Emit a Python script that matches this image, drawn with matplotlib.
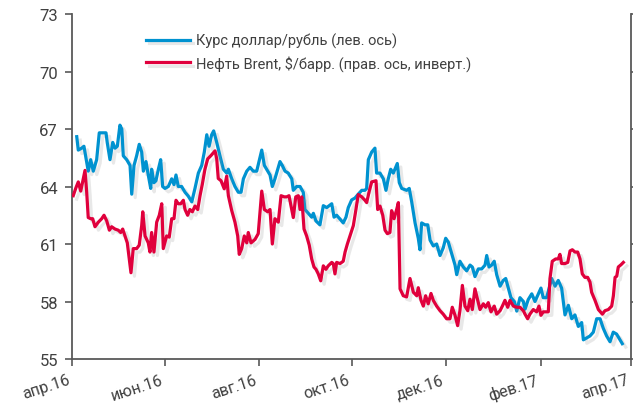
import numpy as np
import matplotlib
matplotlib.use("Agg")
from matplotlib import pyplot as plt
import matplotlib.dates as mdates
import matplotlib.patheffects as pe
import matplotlib.transforms as mtransforms

plt.rcParams["font.family"] = ["Roboto", "DejaVu Sans"]

START = np.datetime64("2016-04-01")

# USD/RUB, left axis; days counted from 1 Apr 2016
rub_day = [3.1, 4.1, 6.3, 7.8, 10.6, 12.2, 13.9, 16.1, 17.8, 20.4, 22.2, 23.0, 24.8,
           26.6, 28.1, 29.6, 31.3, 32.5, 33.5, 35.7, 37.9, 39.0, 40.5, 42.2, 43.9,
           45.5, 46.6, 48.3, 49.8, 51.4, 52.0, 53.5, 54.8, 56.4, 57.9, 59.2, 60.7,
           62.9, 65.1, 66.6, 67.9, 69.4, 71.6, 73.8, 75.9, 78.2, 80.3, 82.5, 84.7,
           86.4, 88.0, 89.5, 91.2, 92.5, 94.5, 96.6, 98.8, 101.0, 102.1, 104.3,
           106.4, 108.6, 110.4, 111.9, 114.1, 116.2, 118.4, 120.6, 122.1, 123.9,
           125.6, 127.1, 129.3, 130.8, 132.5, 134.3, 135.8, 137.3, 139.1, 141.2,
           143.5, 144.5, 146.7, 148.9, 151.0, 152.1, 154.3, 156.5, 157.6, 159.3,
           161.9, 164.1, 166.3, 168.0, 169.6, 171.1, 172.8, 175.0, 177.1, 178.9,
           180.4, 182.6, 184.8, 186.9, 189.2, 191.3, 192.4, 193.5, 195.7, 197.8,
           198.9, 201.1, 203.3, 205.0, 206.5, 208.1, 209.8, 212.4, 213.7, 215.3,
           218.5, 220.2, 221.8, 224.0, 226.1, 227.2, 228.3, 230.5, 232.3, 233.8,
           235.9, 238.1, 240.3, 242.4, 244.0, 245.7, 247.9, 250.1, 251.2, 253.3,
           255.5, 257.7, 259.9, 261.4, 263.1, 265.3, 267.5, 269.7, 270.8, 272.3,
           274.0, 275.7, 277.3, 279.5, 281.6, 283.2, 284.9, 286.6, 288.8, 290.4,
           292.5, 294.7, 295.8, 297.9, 300.2, 302.3, 304.5, 306.2, 307.7, 309.9,
           313.2, 315.4, 317.5, 319.7, 320.8, 321.9, 324.1, 326.3, 328.4, 330.6,
           332.8, 333.9, 336.1, 338.2, 340.4, 342.6, 344.8, 346.9, 349.1, 351.3,
           353.4, 355.6, 357.8, 359.3]
rub_value = [66.6, 65.9, 66.0, 66.1, 64.8, 65.4, 64.8, 65.4, 66.8, 66.8, 66.8, 66.3, 65.4,
             66.3, 66.0, 66.1, 67.2, 67.0, 65.6, 65.4, 65.1, 63.6, 65.1, 65.6, 66.2,
             65.8, 64.8, 65.3, 64.6, 63.9, 64.9, 64.2, 64.3, 64.9, 65.4, 64.0, 63.9,
             64.0, 64.4, 64.1, 64.6, 64.0, 64.0, 63.7, 63.5, 63.2, 63.9, 64.7, 65.1,
             65.8, 66.7, 66.1, 66.7, 66.9, 66.3, 65.6, 64.9, 64.7, 64.9, 64.4,
             64.0, 63.7, 63.7, 64.4, 64.8, 65.0, 64.8, 64.8, 65.3, 65.9,
             65.1, 64.9, 64.6, 64.0, 64.4, 64.9, 65.3, 65.1, 64.8, 64.7,
             64.4, 63.8, 64.0, 64.0, 63.7, 62.8, 62.6, 62.4, 62.6, 62.2,
             62.0, 63.0, 62.9, 63.0, 63.1, 62.4, 62.5, 62.3, 62.1, 62.4,
             62.9, 63.3, 63.4, 63.6, 63.8, 63.8, 63.9, 65.4, 65.8, 66.0,
             64.7, 64.7, 64.4, 63.8, 64.4, 64.9, 64.7, 65.2, 64.2, 63.9,
             63.8, 63.9, 63.2, 62.1, 61.3, 60.7, 62.1, 62.0, 62.0, 61.2,
             60.9, 61.0, 60.4, 60.8, 61.3, 61.1, 60.5, 59.9, 59.4, 60.1,
             59.8, 59.6, 59.9, 59.8, 59.3, 59.7, 59.7, 59.9, 60.4, 59.8,
             59.9, 60.1, 59.4, 58.8, 59.1, 59.2, 58.7, 58.2, 58.0, 57.5,
             58.2, 58.0, 57.6, 58.1, 58.4, 58.0, 58.4, 58.7, 58.2, 58.2,
             59.2, 58.8, 59.1, 58.7, 58.0, 57.3, 57.8, 57.1, 57.3, 56.7,
             56.9, 56.0, 56.1, 56.2, 56.4, 57.1, 57.1, 56.6, 56.2, 55.9,
             56.4, 56.3, 56.0, 55.8]

# Brent, $/bbl, right axis (inverted)
brent_day = [0.8, 2.6, 4.1, 5.7, 7.4, 8.5, 9.6, 10.6, 12.2, 13.5, 15.0, 17.2, 19.4,
             20.9, 22.7, 24.4, 25.9, 28.1, 30.2, 31.8, 33.1, 34.6, 36.1, 37.4, 38.5,
             40.0, 42.2, 43.9, 45.5, 46.2, 47.7, 49.8, 50.9, 52.0, 53.5, 55.3, 57.0,
             58.6, 59.6, 61.8, 63.5, 65.1, 66.6, 67.9, 69.4, 71.0, 72.7, 73.8, 75.5,
             77.0, 78.6, 80.3, 82.1, 83.6, 85.1, 86.8, 88.6, 90.8, 93.4, 94.5, 95.5,
             97.3, 99.4, 101.0, 102.1, 104.3, 106.4, 108.2, 109.2, 110.8, 112.5,
             114.1, 115.1, 116.9, 119.5, 121.6, 123.9, 125.6, 127.8, 129.3, 130.8,
             132.5, 134.7, 136.5, 138.6, 140.2, 141.7, 143.0, 144.5, 146.1, 147.8,
             148.9, 150.0, 150.6, 151.5, 153.2, 154.9, 156.5, 158.0, 159.3, 160.8,
             162.4, 164.1, 165.8, 167.3, 169.6, 170.6, 171.7, 172.8, 175.0, 177.1,
             178.3, 179.8, 181.5, 183.7, 185.4, 186.9, 189.2, 191.3, 192.4, 194.1,
             195.7, 198.5, 199.6, 201.1, 202.9, 204.4, 205.9, 207.6, 208.7, 210.3,
             212.0, 213.1, 214.2, 216.3, 218.5, 220.7, 222.9, 225.1, 226.1, 227.9,
             229.4, 230.9, 232.6, 234.4, 235.9, 238.1, 240.3, 242.4, 244.6, 246.8,
             248.3, 250.1, 251.8, 253.3, 254.9, 256.6, 258.4, 259.9, 261.4, 263.1,
             264.9, 266.4, 268.6, 270.1, 271.8, 273.6, 275.7, 277.3, 279.5, 281.0,
             282.7, 284.5, 286.0, 288.2, 290.4, 292.5, 294.7, 295.8, 297.5, 299.0,
             301.2, 303.4, 304.9, 306.2, 307.7, 309.9, 311.0, 312.1, 313.6, 315.8,
             317.5, 318.6, 319.7, 321.9, 323.7, 325.2, 326.7, 328.4, 330.2, 331.7,
             333.2, 334.9, 336.7, 338.2, 339.3, 341.5, 343.7, 346.3, 348.0, 350.2,
             352.4, 353.5, 354.6, 355.7, 356.7, 358.5, 360.0]
brent_value = [45.8, 45.1, 44.6, 45.4, 44.3, 43.6, 45.5, 47.7, 47.8, 47.8, 48.5, 48.1, 47.8,
               47.5, 48.0, 48.8, 48.5, 48.7, 48.8, 49.0, 48.7, 49.3, 49.9, 51.3, 52.5,
               50.4, 50.4, 50.1, 48.4, 47.2, 49.3, 49.9, 50.7, 49.0, 50.7, 48.1, 47.5,
               46.5, 50.4, 49.3, 49.4, 47.8, 47.8, 46.2, 46.5, 46.5, 46.2, 47.0, 47.5,
               47.0, 47.2, 46.7, 47.0, 45.8, 44.8, 43.5, 42.6, 42.3, 41.9, 42.6, 44.3,
               44.5, 45.2, 44.1, 45.8, 47.1, 48.1, 49.3, 50.9, 50.4, 49.3,
               49.9, 49.0, 49.9, 49.6, 49.1, 45.4, 47.0, 47.2, 47.0, 50.0,
               47.8, 48.1, 45.8, 45.9, 45.9, 45.8, 46.7, 47.7, 45.9, 45.8,
               47.0, 45.9, 47.0, 48.7, 49.3, 50.1, 51.3, 52.0, 52.2, 52.6,
               53.2, 51.9, 52.2, 51.9, 51.6, 51.7, 52.6, 51.6, 51.7, 51.5,
               50.7, 50.0, 49.3, 48.4, 47.0, 45.7, 45.9, 46.2, 46.4, 45.4,
               44.6, 44.5, 47.0, 46.7, 47.5, 48.8, 49.1, 49.0, 47.1, 47.8,
               47.0, 46.4, 53.9, 54.5, 54.6, 53.0, 54.2, 54.5, 53.8, 54.9,
               55.4, 54.5, 55.2, 54.3, 54.9, 55.4, 55.8, 56.1, 56.5, 56.5,
               55.5, 56.2, 57.1, 55.8, 53.6, 55.4, 55.8, 54.8, 55.7, 53.9,
               54.9, 55.7, 55.2, 55.5, 55.1, 55.9, 55.4, 56.1, 55.8, 55.4,
               54.9, 55.5, 54.9, 55.4, 55.5, 55.5, 55.8, 56.1, 56.5, 56.1,
               55.7, 55.9, 55.4, 56.2, 55.9, 55.9, 55.9, 53.0, 51.5, 51.3,
               51.3, 50.9, 51.7, 51.7, 51.6, 50.6, 50.5, 50.7, 50.7, 51.3,
               52.6, 52.9, 52.9, 53.3, 54.2, 54.9, 55.7, 56.1, 55.8, 55.7,
               55.4, 54.5, 52.9, 52.8, 52.0, 51.8, 51.6]

tick_dates = ["2016-04-01", "2016-06-01", "2016-08-01", "2016-10-01",
              "2016-12-01", "2017-02-01", "2017-04-01"]
tick_labels = ["апр.16", "июн.16", "авг.16", "окт.16", "дек.16", "фев.17", "апр.17"]
left_ticks = [55, 58, 61, 64, 67, 70, 73]

BLUE = "#0092D0"
RED = "#E0003C"
AXIS = "#595959"
TEXT = "#404040"


def to_num(days):
    return mdates.date2num(START) + np.asarray(days, dtype=float)


fig = plt.figure(figsize=(6.33, 4.06), dpi=100)
ax = fig.add_axes([72 / 633, 46 / 406, 559 / 633, 345 / 406])
ax2 = ax.twinx()

# soft Excel-like drop shadow under both lines
shadow = [pe.SimpleLineShadow(offset=(2.5, -2.5), shadow_color="#9a9a9a", alpha=0.22),
          pe.Normal()]
l1, = ax.plot(to_num(rub_day), rub_value, color=BLUE, lw=2.3,
              solid_joinstyle="round", path_effects=shadow,
              label="Курс доллар/рубль (лев. ось)")
l2, = ax2.plot(to_num(brent_day), brent_value, color=RED, lw=2.3,
               solid_joinstyle="round", path_effects=shadow,
               label="Нефть Brent, $/барр. (прав. ось, инверт.)")

ax.set_ylim(55, 73)
ax.set_yticks(left_ticks)
ax2.set_ylim(60, 30)
ax.set_xlim(to_num(0), mdates.date2num(np.datetime64("2017-04-01")))

xt = mdates.date2num(np.array(tick_dates, dtype="datetime64[D]"))
ax.set_xticks(xt)
ax.set_xticklabels([])
# slanted month labels, drawn by hand so the last one can sit a bit left
lab_trans = (mtransforms.blended_transform_factory(ax.transData, ax.transAxes)
             + mtransforms.ScaledTranslation(-0.05, -0.13, fig.dpi_scale_trans))
for d, lab in zip(xt, tick_labels):
    ax.text(d, 0, lab, transform=lab_trans, rotation=18, ha="right", va="top",
            rotation_mode="anchor", fontsize=11.5, color=TEXT, clip_on=False)

for s in ("top", "right"):
    ax.spines[s].set_visible(False)
for s in ("top", "left", "bottom"):
    ax2.spines[s].set_visible(False)
for s in ("left", "bottom"):
    ax.spines[s].set_color(AXIS)
    ax.spines[s].set_linewidth(1.3)
ax2.spines["right"].set_color(AXIS)
ax2.spines["right"].set_linewidth(1.3)

ax.tick_params(axis="both", direction="out", length=5, width=1.2, color=AXIS,
               labelcolor=TEXT, labelsize=12)
ax.tick_params(axis="y", pad=5)
# right-axis labels fall outside the cropped picture
ax2.tick_params(axis="y", direction="out", length=5, width=1.2, color=AXIS,
                labelright=False)

fig.legend(handles=[l1, l2], loc="upper left",
           bbox_to_anchor=(146 / 633, 1 - 34 / 406), frameon=False,
           fontsize=10.5, handlelength=3.0, handletextpad=0.4,
           labelspacing=0.45, borderpad=0, borderaxespad=0,
           labelcolor=TEXT)

fig.savefig("out.png", dpi=100)
